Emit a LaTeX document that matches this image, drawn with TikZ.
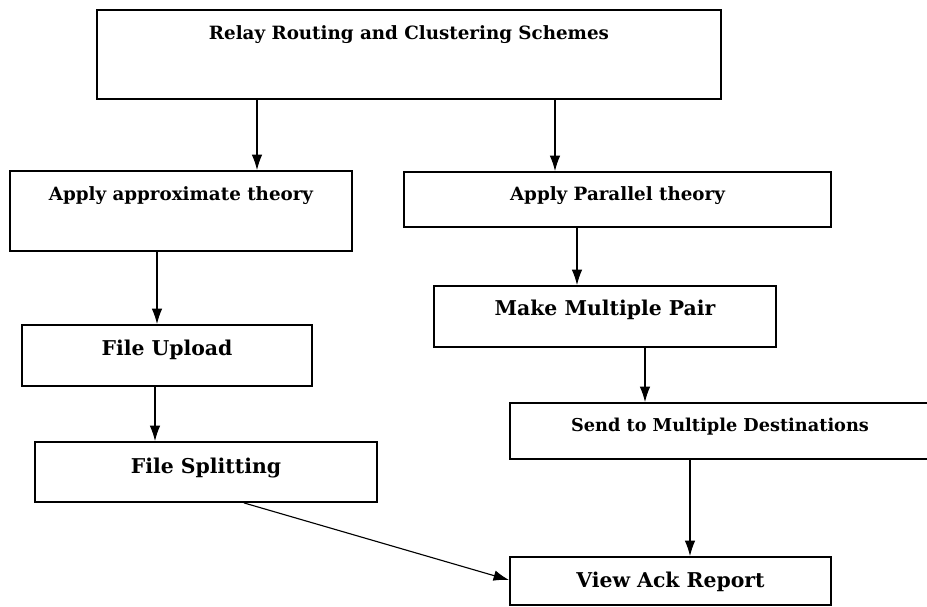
\documentclass[tikz,border=0pt]{standalone}
\usepackage{fontspec}
\setmainfont{DejaVu Serif}
\usetikzlibrary{arrows.meta}

\begin{document}
\begin{tikzpicture}[
        x=0.025cm, y=-0.025cm,
        stage/.style={
            draw,
            line width=1.3pt,
            inner sep=0pt,
        },
        small/.style={font=\bfseries\fontsize{13}{15}\selectfont},
        big/.style={font=\bfseries\fontsize{14.5}{17}\selectfont},
        arr/.style={-{Latex[length=11pt,width=7.5pt]}, line width=0.8pt},
    ]
    \clip (0,0) rectangle (927,606);

    \node (schemes) at (409,54.5) [stage, small, minimum width=15.6cm, text height=0.75cm, text depth=1.475cm] {Relay Routing and Clustering Schemes};
    \node (approx) at (181,211) [stage, small, minimum width=8.55cm, text height=0.725cm, text depth=1.275cm] {Apply approximate theory};
    \node (parallel) at (617.5,199.5) [stage, small, minimum width=10.675cm, text height=0.7cm, text depth=0.675cm] {Apply Parallel theory};
    \node (pair) at (605,316.5) [stage, big, minimum width=8.55cm, text height=0.725cm, text depth=0.8cm] {Make Multiple Pair};
    \node (upload) at (167,355.5) [stage, big, minimum width=7.25cm, text height=0.75cm, text depth=0.775cm] {File Upload};
    \node (dest) at (720,431) [stage, small, font=\bfseries\fontsize{12.6}{15}\selectfont, minimum width=10.5cm, text height=0.7cm, text depth=0.7cm] {Send to Multiple Destinations};
    \node (split) at (206,472) [stage, big, minimum width=8.55cm, text height=0.775cm, text depth=0.725cm] {File Splitting};
    \node (ack) at (670.5,581) [stage, big, minimum width=8.025cm, text height=0.75cm, text depth=0.45cm] {View Ack Report};

    \draw [arr] (schemes.south -| 257,0) -- (approx.north -| 257,0);
    \draw [arr] (schemes.south -| 555,0) -- (parallel.north -| 555,0);
    \draw [arr] (approx.south -| 157,0) -- (upload.north -| 157,0);
    \draw [arr] (upload.south -| 155,0) -- (split.north -| 155,0);
    \draw [arr] (parallel.south -| 577,0) -- (pair.north -| 577,0);
    \draw [arr] (pair.south -| 645,0) -- (dest.north -| 645,0);
    \draw [arr] (dest.south -| 690,0) -- (ack.north -| 690,0);
    \draw [arr] (split.south -| 244,0) -- (ack.west |- 0,580);

\end{tikzpicture}
\end{document}
